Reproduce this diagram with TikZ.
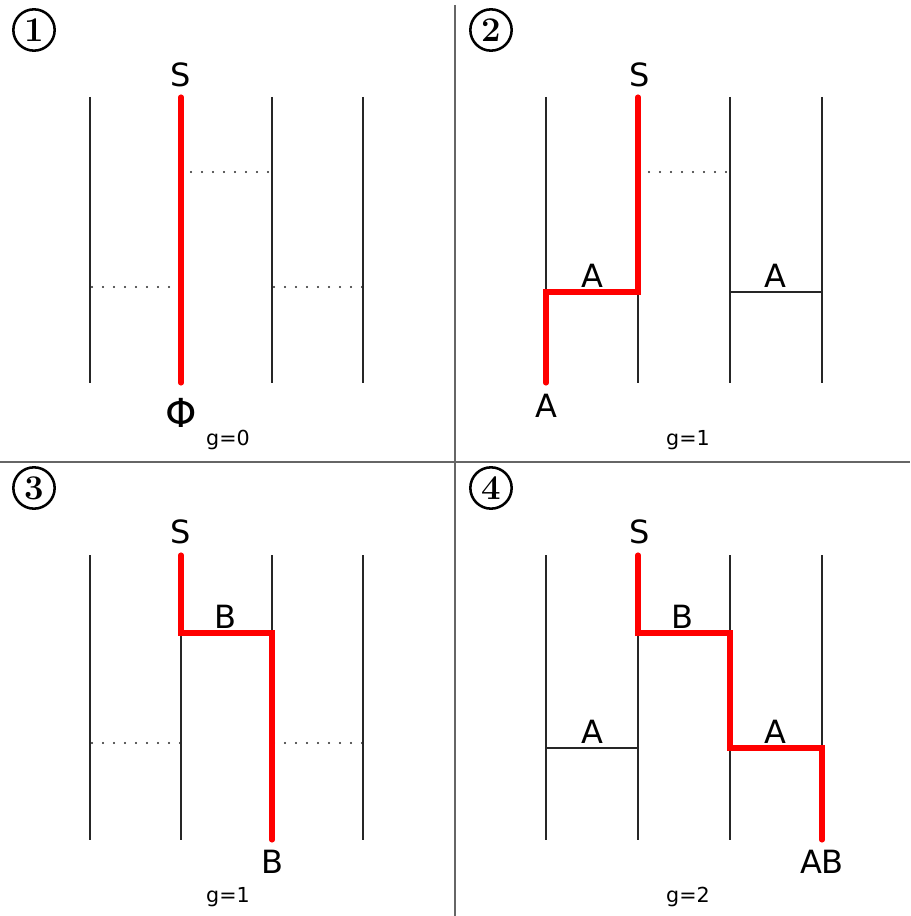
\documentclass[tikz,border=0pt]{standalone}
\usepackage{fontspec}
\setmainfont{DejaVu Sans}
\newfontfamily\serifdigit{Latin Modern Roman}
\begin{document}
\begin{tikzpicture}[x=0.75pt,y=-0.75pt,
  rail/.style={draw=black!85,line width=0.9pt},
  redpath/.style={draw=red,line width=3.8pt,line cap=round,line join=miter},
  rung/.style={draw=black!85,line width=0.9pt},
  dotrung/.style={draw=black!85,line width=1.8pt,line cap=round,dash pattern=on 0pt off 8.25pt},
  divider/.style={draw=black!60,line width=1.1pt},
  lab/.style={font=\fontsize{24}{24}\selectfont,inner sep=0pt},
  glab/.style={font=\fontsize{15.5}{15.5}\selectfont,inner sep=0pt},
  num/.style={circle,draw=black,line width=1.9pt,minimum size=31pt,inner sep=0pt,
    font=\serifdigit\bfseries\fontsize{26}{26}\selectfont}]
\useasboundingbox (0,0) rectangle (910,916);
% dividers
\coordinate (dvt) at (455,5); \coordinate (dvb) at (455,916);
\coordinate (dhl) at (0,462); \coordinate (dhr) at (910,462);
\draw[divider] (dvt) -- (dvb);
\draw[divider] (dhl) -- (dhr);

% ---------- Panel 1 ----------
\foreach \x [count=\i] in {90,181,272,363}{
  \coordinate (p1t\i) at (\x,97); \coordinate (p1b\i) at (\x,383);
  \draw[rail] (p1t\i) -- (p1b\i);}
\coordinate (p1d1a) at (191,172); \coordinate (p1d1b) at (272,172);
\coordinate (p1d2a) at (92,287); \coordinate (p1d2b) at (181,287);
\coordinate (p1d3a) at (274,287); \coordinate (p1d3b) at (363,287);
\draw[dotrung] (p1d1a) -- (p1d1b);
\draw[dotrung] (p1d2a) -- (p1d2b);
\draw[dotrung] (p1d3a) -- (p1d3b);
\draw[redpath] (p1t2) -- (p1b2);
\node[lab] (p1s) at (181,75) {S};
\node[font=\fontsize{30}{30}\selectfont,inner sep=0pt] (p1phi) at (181,413) {Φ};
\node[glab] (p1g) at (228,440) {g=0};
\node[num] (n1) at (34,30) {1};

% ---------- Panel 2 ----------
\foreach \x [count=\i] in {546,638,730,822}{
  \coordinate (p2t\i) at (\x,97); \coordinate (p2b\i) at (\x,383);
  \draw[rail] (p2t\i) -- (p2b\i);}
\coordinate (p2d1a) at (649,172); \coordinate (p2d1b) at (730,172);
\draw[dotrung] (p2d1a) -- (p2d1b);
\coordinate (p2r1a) at (546,292); \coordinate (p2r1b) at (638,292);
\coordinate (p2r2a) at (730,292); \coordinate (p2r2b) at (822,292);
\draw[rung] (p2r2a) -- (p2r2b);
\draw[redpath] (p2b1) -- (p2r1a) -- (p2r1b) -- (p2t2);
\node[lab] (p2s) at (640,75) {S};
\node[lab] (p2a1) at (592,276) {A};
\node[lab] (p2a2) at (775,276) {A};
\node[lab] (p2a3) at (546,406) {A};
\node[glab] (p2g) at (688,440) {g=1};
\node[num] (n2) at (491,30) {2};

% ---------- Panel 3 ----------
\foreach \x [count=\i] in {90,181,272,363}{
  \coordinate (p3t\i) at (\x,555); \coordinate (p3b\i) at (\x,840);
  \draw[rail] (p3t\i) -- (p3b\i);}
\coordinate (p3d1a) at (92,743); \coordinate (p3d1b) at (181,743);
\coordinate (p3d2a) at (274,743); \coordinate (p3d2b) at (363,743);
\draw[dotrung] (p3d1a) -- (p3d1b);
\draw[dotrung] (p3d2a) -- (p3d2b);
\coordinate (p3r1a) at (181,633); \coordinate (p3r1b) at (272,633);
\draw[redpath] (p3t2) -- (p3r1a) -- (p3r1b) -- (p3b3);
\node[lab] (p3s) at (181,532) {S};
\node[lab] (p3b) at (225,617) {B};
\node[lab] (p3bb) at (272,862) {B};
\node[glab] (p3g) at (228,897) {g=1};
\node[num] (n3) at (34,488) {3};

% ---------- Panel 4 ----------
\foreach \x [count=\i] in {546,638,730,822}{
  \coordinate (p4t\i) at (\x,555); \coordinate (p4b\i) at (\x,840);
  \draw[rail] (p4t\i) -- (p4b\i);}
\coordinate (p4r0a) at (546,748); \coordinate (p4r0b) at (638,748);
\draw[rung] (p4r0a) -- (p4r0b);
\coordinate (p4r1a) at (638,633); \coordinate (p4r1b) at (730,633);
\coordinate (p4r2a) at (730,748); \coordinate (p4r2b) at (822,748);
\draw[redpath] (p4t2) -- (p4r1a) -- (p4r1b) -- (p4r2a) -- (p4r2b) -- (p4b4);
\node[lab] (p4s) at (640,532) {S};
\node[lab] (p4b) at (682,617) {B};
\node[lab] (p4a1) at (592,732) {A};
\node[lab] (p4a2) at (775,732) {A};
\node[lab] (p4ab) at (822,862) {AB};
\node[glab] (p4g) at (688,897) {g=2};
\node[num] (n4) at (491,488) {4};
\end{tikzpicture}
\end{document}
